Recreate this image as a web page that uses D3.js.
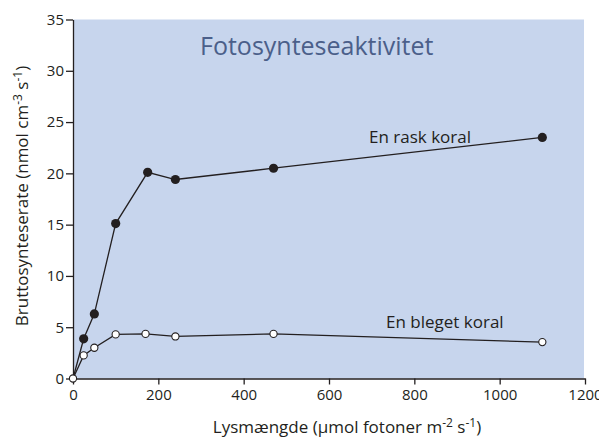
<!DOCTYPE html>
<html>
<head>
<meta charset="utf-8">
<script src="https://cdn.jsdelivr.net/npm/d3@7"></script>
<style>
  body { margin: 0; background: #fff; }
  text { font-family: "Open Sans", sans-serif; fill: #231f20; }
</style>
</head>
<body>
<svg id="chart"></svg>
<script>
// data
var lightLevels = [0, 25, 50, 100, 175, 240, 470, 1100];
var healthyRate = [0, 3.87, 6.3, 15.1, 20.1, 19.4, 20.5, 23.5];
var bleachedLight = [0, 25, 50, 100, 170, 240, 470, 1100];
var bleachedRate = [0, 2.25, 3.0, 4.3, 4.35, 4.1, 4.35, 3.55];
var xTicks = [0, 200, 400, 600, 800, 1000, 1200];
var yTicks = [0, 5, 10, 15, 20, 25, 30, 35];

var width = 599;
var height = 441;
var svg = d3.select('#chart').attr('width', width).attr('height', height);

var x = d3.scaleLinear().domain([0, 1200]).range([73, 585]);
var y = d3.scaleLinear().domain([0, 35]).range([378.5, 19.5]);

// plot background
svg.append('rect')
  .attr('x', x(0))
  .attr('y', y(35))
  .attr('width', x(1200) - x(0) - 1)
  .attr('height', y(0) - y(35))
  .attr('fill', '#c7d5ed');

var xAxis = d3.axisBottom(x).tickValues(xTicks).tickFormat(d3.format('d'))
  .tickSize(6).tickSizeOuter(0).tickPadding(5);
var yAxis = d3.axisLeft(y).tickValues(yTicks).tickFormat(d3.format('d'))
  .tickSize(7).tickSizeOuter(0).tickPadding(2);

var gx = svg.append('g').attr('transform', 'translate(0,' + y(0) + ')').call(xAxis);
var gy = svg.append('g').attr('transform', 'translate(' + x(0) + ',0)').call(yAxis);
[gx, gy].forEach(function (g) {
  g.selectAll('path, line').attr('stroke', '#231f20').attr('stroke-width', 1.3);
  g.selectAll('text').style('font-size', '15px').style('font-family', '"Open Sans", sans-serif').attr('fill', '#231f20');
});

var healthy = lightLevels.map(function (v, i) { return [v, healthyRate[i]]; });
var bleached = bleachedLight.map(function (v, i) { return [v, bleachedRate[i]]; });

var line = d3.line().x(d => x(d[0])).y(d => y(d[1]));

svg.append('path').datum(healthy)
  .attr('d', line).attr('fill', 'none').attr('stroke', '#231f20').attr('stroke-width', 1.3);
svg.append('path').datum(bleached)
  .attr('d', line).attr('fill', 'none').attr('stroke', '#231f20').attr('stroke-width', 1.3);

// healthy coral markers (the origin is shared with the open series)
svg.selectAll('.dot-h').data(healthy.filter(d => d[0] > 0)).enter().append('circle')
  .attr('cx', d => x(d[0])).attr('cy', d => y(d[1])).attr('r', 4.6)
  .attr('fill', '#231f20');

svg.selectAll('.dot-b').data(bleached).enter().append('circle')
  .attr('cx', d => x(d[0])).attr('cy', d => y(d[1])).attr('r', 3.6)
  .attr('fill', '#fff').attr('stroke', '#231f20').attr('stroke-width', 1.1);

svg.append('text')
  .attr('x', 200).attr('y', 55)
  .style('font-size', '25px').style('fill', '#4b5f8a')
  .text('Fotosynteseaktivitet');

svg.append('text').attr('x', 369).attr('y', 143).style('font-size', '17px').text('En rask koral');
svg.append('text').attr('x', 386).attr('y', 328).style('font-size', '17px').text('En bleget koral');

var xl = svg.append('text').attr('x', 347).attr('y', 433).attr('text-anchor', 'middle').style('font-size', '17px');
xl.append('tspan').text('Lysmængde (µmol fotoner m');
xl.append('tspan').attr('dy', -6).style('font-size', '12px').text('-2');
xl.append('tspan').attr('dy', 6).text(' s');
xl.append('tspan').attr('dy', -6).style('font-size', '12px').text('-1');
xl.append('tspan').attr('dy', 6).text(')');

var yl = svg.append('text')
  .attr('transform', 'translate(28,196) rotate(-90)')
  .attr('text-anchor', 'middle').style('font-size', '17px');
yl.append('tspan').text('Bruttosynteserate (nmol cm');
yl.append('tspan').attr('dy', -6).style('font-size', '12px').text('-3');
yl.append('tspan').attr('dy', 6).text(' s');
yl.append('tspan').attr('dy', -6).style('font-size', '12px').text('-1');
yl.append('tspan').attr('dy', 6).text(')');
</script>
</body>
</html>
